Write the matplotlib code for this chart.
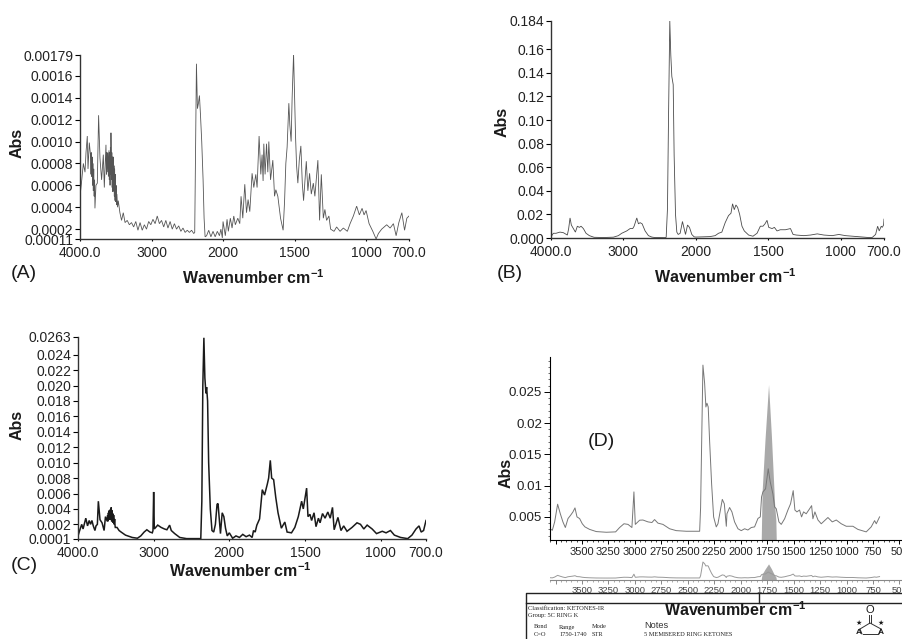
# FTIR spectra panels A-D with the library match strip under D
import numpy as np
import matplotlib
matplotlib.use("Agg")
import matplotlib.pyplot as plt
from matplotlib.ticker import FixedLocator, FixedFormatter

plt.rcParams['font.family'] = ['Liberation Sans', 'DejaVu Sans']
plt.rcParams['mathtext.fontset'] = 'custom'
plt.rcParams['mathtext.bf'] = 'Liberation Sans:bold'
plt.rcParams['mathtext.rm'] = 'Liberation Sans'

W, H = 902, 639

# panel A, absorbance in units of 1e-4
wn_a = [4000,3977,3953,3930,3916,3898,3888,3870,3851,3846,3842,3837,3830,3825,3820,3814,3808,3802,3796,3791,
        3777,3758,3740,3721,3698,3674,3660,3637,3630,3625,3619,3610,3603,3595,3590,3585,3580,3575,3570,3567,
        3560,3555,3550,3545,3540,3535,3530,3525,3520,3516,3510,3505,3500,3495,3490,3484,3475,3465,3442,3419,
        3395,3370,3340,3310,3280,3250,3220,3190,3160,
        3130,3100,3070,3040,3010,2980,2950,2920,2890,2860,2830,2800,2770,2740,2710,2680,2650,2620,2590,2560,
        2530,2500,2470,2440,2410,2396,2372,2358,2344,2330,2316,2298,2279,2265,2251,2230,2200,2170,2140,2110,
        2080,2050,2030,2010,2000,1984,1972,1963,1949,1937,1925,1914,1897,1883,1874,1862,1848,1836,1825,1813,
        1797,1785,1771,1762,1748,1736,1727,1720,1715,1706,1696,1687,1680,1668,1652,1640,1631,1617,1598,1580,
        1570,1561,1552,1540,1533,1524,1517,1507,1500,1493,1486,1477,1467,1456,1446,1437,1418,1407,1395,1383,
        1369,1358,1337,1325,1313,1299,1288,1276,1260,1248,1224,1206,1182,1159,1131,1112,1089,1066,1047,1028,
        1014,1000,979,953,930,914,891,856,832,809,790,771,750,731,715,700]
abs_a = np.array([5.0,6.4,8.0,7.2,9.0,10.5,7.5,9.9,8.6,7.0,9.0,6.8,8.6,6.0,8.0,5.5,7.5,5.0,6.5,3.9,
        6.0,6.2,12.4,8.5,6.5,8.8,5.8,9.7,7.0,9.0,7.2,9.0,6.8,9.2,6.5,9.0,6.0,9.5,7.0,10.8,
        6.5,9.0,5.8,8.6,5.4,8.6,5.5,7.8,5.0,7.5,4.6,7.0,4.5,6.0,4.2,5.2,4.0,4.6,3.5,2.8,
        3.5,2.6,2.8,2.4,2.6,2.2,2.7,1.9,2.6,
        1.9,2.4,2.0,2.7,2.4,2.9,2.5,3.2,2.5,2.8,2.2,2.8,2.1,2.7,2.0,2.5,2.0,2.3,1.8,2.1,
        1.7,1.9,1.7,1.9,1.6,1.7,17.1,13.0,13.5,14.2,12.5,10.0,6.5,3.0,1.3,1.4,1.9,1.3,1.8,1.3,
        1.8,1.4,2.0,1.2,2.7,1.4,2.9,1.8,3.0,2.1,3.2,2.4,3.0,2.5,5.0,3.0,6.1,3.5,4.7,3.6,
        7.1,5.8,7.0,5.8,10.5,7.0,8.8,6.4,9.8,7.0,9.8,7.2,10.0,6.5,8.3,5.0,5.6,5.0,3.0,1.9,
        4.5,8.0,9.5,13.5,11.5,10.0,14.0,18.0,14.0,10.4,7.8,6.2,8.3,9.6,6.2,4.6,8.2,5.5,7.1,5.2,
        6.2,5.0,8.3,2.8,7.0,3.0,3.8,2.8,3.2,2.0,1.8,2.2,1.8,2.1,1.8,2.5,3.2,4.1,3.3,3.9,
        3.3,3.7,2.5,1.8,1.1,1.6,2.0,2.4,2.1,2.5,1.4,2.6,3.5,1.9,3.0,3.2]) * 1e-4

# panel B, absorbance in units of 1e-3
wn_b = [4000,3968,3931,3876,3829,3774,3756,3737,3719,3691,3663,3636,3608,3585,3553,3516,3470,3405,3276,3138,
        3069,3023,2954,2907,2871,2852,2815,2792,2769,2741,2700,2654,2608,2566,2423,2409,2391,2377,2359,2345,
        2331,2312,2299,2280,2262,2243,2216,2184,2165,2142,2114,2087,2055,2023,2000,1947,1901,1866,1843,1820,
        1797,1774,1757,1746,1734,1723,1711,1697,1681,1665,1635,1605,1577,1554,1536,1522,1508,1496,1473,1457,
        1439,1416,1381,1346,1328,1305,1254,1208,1161,1115,1058,1012,966,885,816,781,758,744,733,719,712,703,700]
abs_b = np.array([1,4,4,5,4.5,2.5,8,17,11,8,5,10,9,10,8,4,2,0.6,0.4,0.7,
        2,4,6,8,8,10,17,12,13,12,6,2,0.8,0.4,0.3,0.6,25,100,184,155,
        137,130,70,20,5,3,4,14,9,3,11,9,3,1,0.8,1,1.2,2,4,5,
        13,19,21,29,24,28,26,20,10,6,2.5,1.5,4,10,10,12,15,9,8,9,
        6,7,7,8,3,2.5,2,2.5,3.5,2.5,2,3,2,1.2,0.5,0.5,3,10,6,10,9,11,16]) * 1e-3

# panel C, absorbance in units of 1e-3
wn_c = [4000,3978,3951,3933,3897,3874,3852,3834,3816,3798,3776,3762,3744,3731,3709,3682,3655,3637,3614,3608,
        3603,3598,3592,3587,3582,3576,3570,3561,3555,3550,3547,3540,3535,3529,3522,3516,3510,3507,
        3484,3457,3430,3372,3283,3215,3170,3126,3090,3049,3018,3009,3000,2991,2946,
        2901,2857,2825,2789,2767,2722,2655,2565,2377,2363,2350,2336,2323,2309,2300,2287,2273,2251,2229,2206,
        2184,2162,2149,2131,2117,2094,2072,2050,2027,2000,1978,1956,1933,1911,1889,1867,1849,1840,1829,1818,
        1800,1782,1767,1749,1740,1729,1720,1707,1693,1678,1656,1633,1618,1589,1567,1544,1522,1511,1489,1480,
        1467,1456,1440,1427,1411,1400,1384,1367,1349,1333,1318,1307,1282,1262,1244,1222,1189,1156,1133,1111,
        1089,1056,1027,989,964,935,909,868,821,793,766,746,732,716,700]
abs_c = np.array([0.5,1.2,2.0,1.4,2.8,1.8,2.5,2.0,2.5,1.8,1.2,1.8,2.0,5.0,2.6,2.2,1.2,3.0,2.4,3.2,
        2.4,3.5,2.6,3.8,2.6,3.9,2.6,4.2,2.4,3.8,2.4,3.4,2.2,3.2,2.0,2.7,1.8,1.6,
        1.6,1.2,1.0,0.6,0.3,0.2,0.5,1.0,1.3,1.0,0.9,1.2,6.2,1.4,1.9,
        1.6,1.4,1.3,1.9,1.2,0.8,0.3,0.15,0.15,5,20,26.2,21,19,19.8,18,10,4,1.2,1.0,
        2,4.6,4.7,2.5,0.8,3.5,3,1.5,0.5,0.9,0.2,0.5,0.3,0.7,0.4,0.6,0.3,1.2,1.0,1.9,
        2.7,6.5,5.8,7.2,8,10.3,8,7.8,5.5,3.5,1.5,2.3,1.0,0.9,1.6,3,5,4,6.7,3,
        3.3,2.5,3.5,1.7,2.8,2.2,3.4,2.8,3.6,2.8,4.2,1.3,2.9,1.2,1.8,1.1,1.6,2.2,2.0,1.4,
        1.9,1.4,0.8,1.1,0.9,1.2,0.6,0.3,0.15,0.6,1.4,1.8,1.0,1.2,2.5]) * 1e-3

# panel D spectrum
wn_d = [3805,3780,3758,3730,3705,3680,3657,3632,3607,3585,3566,3547,3522,3497,3472,3428,3365,3270,3182,3144,
        3103,3065,3028,3009,2996,2955,2924,2876,2839,2814,2782,2735,2672,2609,2514,2388,2379,2357,2341,2329,
        2319,2307,2294,2275,2256,2231,2215,2174,2155,2136,2130,2105,2083,2058,2026,1995,1963,1932,1900,1869,
        1837,1815,1803,1790,1765,1740,1721,1696,1680,1664,1639,1617,1585,1554,1529,1504,1488,1469,1444,1425,
        1406,1381,1349,1330,1318,1299,1270,1239,1176,1135,1097,1050,1003,940,893,814,767,735,719,688]
abs_d = [.00313,.00286,.0042,.00703,.00553,.0042,.0033,.00473,.00527,.0058,.00644,.005,.00473,.0039,.0034,.0030,.00265,.00254,.0026,.0033,
         .0039,.0038,.0033,.0090,.0038,.00447,.0045,.0042,.0041,.00457,.004,.0038,.0031,.0028,.0027,.0027,.0065,.0293,.0264,.0226,
         .0232,.0226,.0172,.0103,.005,.0034,.0039,.0078,.0071,.0035,.0055,.0065,.0058,.0042,.0031,.0028,.0031,.0029,.0033,.0034,
         .00475,.005,.0082,.0090,.0095,.0127,.0106,.0087,.0066,.0063,.0042,.0038,.0047,.0061,.0071,.0092,.0061,.0058,.0061,.005,
         .0058,.0055,.0063,.0068,.0047,.0058,.0045,.0039,.0049,.0042,.0045,.0039,.0035,.0035,.0030,.0026,.0034,.0044,.0039,.005]

# library band shaded in D
wn_band = [1806,1798,1770,1737,1710,1680,1668,1664]
abs_band = [.0013,.0090,.0175,.0262,.018,.0072,.0045,.0013]

ticks_spec = [4000, 3000, 2000, 1500, 1000, 700]
labels_spec = ['4000.0', '3000', '2000', '1500', '1000', '700.0']
ticks_a = [0.00011, 0.0002, 0.0004, 0.0006, 0.0008, 0.0010, 0.0012, 0.0014, 0.0016, 0.00179]
labels_a = ['0.00011', '0.0002', '0.0004', '0.0006', '0.0008', '0.0010', '0.0012', '0.0014', '0.0016', '0.00179']
ticks_b = [0, 0.02, 0.04, 0.06, 0.08, 0.10, 0.12, 0.14, 0.16, 0.184]
labels_b = ['0.000', '0.02', '0.04', '0.06', '0.08', '0.10', '0.12', '0.14', '0.16', '0.184']
ticks_c = [0.0001, 0.002, 0.004, 0.006, 0.008, 0.010, 0.012, 0.014, 0.016, 0.018, 0.020, 0.022, 0.024, 0.0263]
labels_c = ['0.0001', '0.002', '0.004', '0.006', '0.008', '0.010', '0.012', '0.014', '0.016', '0.018', '0.020', '0.022', '0.024', '0.0263']
ticks_d = [0.005, 0.01, 0.015, 0.02, 0.025]
labels_d = ['0.005', '0.01', '0.015', '0.02', '0.025']
ticks_wn = [3750, 3500, 3250, 3000, 2750, 2500, 2250, 2000, 1750, 1500, 1250, 1000, 750, 500]
labels_wn = ['', '3500', '3250', '3000', '2750', '2500', '2250', '2000', '1750', '1500', '1250', '1000', '750', '500']
minor_wn = list(range(500, 3801, 50))


def add_box(left, top, right, bottom):
    return fig.add_axes([left / W, 1 - bottom / H, (right - left) / W, (bottom - top) / H])


def forward(x):
    # the instrument halves the scale above 2000
    return np.interp(x, [0, 2000, 8000], [0, 2000, 5000])


def inverse(x):
    return np.interp(x, [0, 2000, 5000], [0, 2000, 8000])


def spectrum(box, wn, absorb, yticks, ylabels, ylim, lw, color):
    ax = add_box(*box)
    ax.plot(wn, absorb, color=color, lw=lw, solid_joinstyle='miter')
    ax.set_xscale('function', functions=(forward, inverse))
    ax.set_xlim(4000, 700)
    ax.set_ylim(*ylim)
    ax.xaxis.set_major_locator(FixedLocator(ticks_spec))
    ax.xaxis.set_major_formatter(FixedFormatter(labels_spec))
    ax.xaxis.set_minor_locator(FixedLocator([]))
    ax.set_yticks(yticks)
    ax.set_yticklabels(ylabels)
    ax.tick_params(axis='y', length=3.5, width=0.8, labelsize=10, pad=1.5, labelcolor='#222222')
    ax.tick_params(axis='x', length=1.5, width=0.8, labelsize=10, pad=3.5, labelcolor='#222222')
    ax.spines['top'].set_visible(False)
    ax.spines['right'].set_visible(False)
    for s in ['left', 'bottom']:
        ax.spines[s].set_linewidth(1.0)
        ax.spines[s].set_color('#333333')
    ax.patch.set_alpha(0)
    return ax


def wn_axis(ax, labelsize, pad):
    ax.set_xlim(3802, 476)
    ax.xaxis.set_major_locator(FixedLocator(ticks_wn))
    ax.xaxis.set_major_formatter(FixedFormatter(labels_wn))
    ax.xaxis.set_minor_locator(FixedLocator(minor_wn))
    ax.tick_params(axis='x', which='major', length=3, width=0.7, labelsize=labelsize, pad=pad, labelcolor='#222222')
    ax.tick_params(axis='x', which='minor', length=1.5, width=0.5)
    ax.spines['top'].set_visible(False)
    ax.spines['right'].set_visible(False)
    ax.patch.set_alpha(0)


fig = plt.figure(figsize=(W / 100, H / 100), dpi=100)

# pixel space overlay for labels and the library card
page = fig.add_axes([0, 0, 1, 1])
page.set_xlim(0, W)
page.set_ylim(H, 0)
page.axis('off')

spectrum((80, 55, 409, 239), wn_a, abs_a, ticks_a, labels_a, (0.00011, 0.00179), 0.6, '#555555')
spectrum((551, 21, 884, 238), wn_b, abs_b, ticks_b, labels_b, (0, 0.184), 0.6, '#4a4a4a')
spectrum((78, 337, 426, 539), wn_c, abs_c, ticks_c, labels_c, (0.0001, 0.0263), 1.1, '#1a1a1a')

# panel D
ax_d = add_box(550, 357, W, 540)
ax_d.fill_between(wn_band, 0.0013, abs_band, color='#a9a9a9', lw=0)
ax_d.plot(wn_d, abs_d, color='#777777', lw=0.7)
ax_d.set_ylim(0.0013, 0.0306)
ax_d.set_yticks(ticks_d)
ax_d.set_yticklabels(labels_d)
ax_d.yaxis.set_minor_locator(FixedLocator(np.arange(0.002, 0.0305, 0.001)))
ax_d.tick_params(axis='y', which='major', length=4, width=0.7, labelsize=9.6, pad=1.5, labelcolor='#222222')
ax_d.tick_params(axis='y', which='minor', length=1.5, width=0.4)
wn_axis(ax_d, 8.0, 2)

# small overview strip under D
ax_m = add_box(550, 555, W, 580)
ax_m.fill_between(wn_band, -0.0007, abs_band, color='#a9a9a9', lw=0)
ax_m.plot(wn_d, abs_d, color='#999999', lw=0.7)
ax_m.set_ylim(-0.0007, 0.041)
ax_m.set_yticks([])
ax_m.spines['left'].set_visible(False)
wn_axis(ax_m, 6.8, 1.5)
ax_m.spines['bottom'].set_color('#888888')
ax_m.tick_params(axis='x', which='both', color='#888888', labelcolor='#444444')

txt = dict(ha='center', va='center', color='#1a1a1a')
xlabel = r'Wavenumber cm$^{\mathbf{-1}}$'
for x, y in [(253, 278), (725, 277), (240, 571)]:
    page.text(x, y, xlabel, fontsize=11.5, fontweight='bold', **txt)
for x, y in [(17, 143), (502, 122), (17, 425), (506, 473)]:
    page.text(x, y, 'Abs', fontsize=11.5, fontweight='bold', rotation=90, **txt)
for x, y, s in [(24, 273, '(A)'), (510, 274, '(B)'), (24, 566, '(C)'), (601, 442, '(D)')]:
    page.text(x, y, s, fontsize=14, **txt)

# library card at the bottom right
page.plot([W, 526, 526], [593, 593, H], color='#222222', lw=1.0, clip_on=False)
page.plot([526, W], [603, 603], color='#222222', lw=1.0)
page.plot([759, 759], [593, 603], color='#222222', lw=1.0)
page.text(735, 610, xlabel, fontsize=11.5, fontweight='bold', **txt)
serif = dict(family='Liberation Serif', ha='left', va='center', color='#222222', fontsize=4.6)
page.text(528, 608, 'Classification: KETONES-IR', **serif)
page.text(528, 615, 'Group: 5C RING K', **serif)
page.text(534, 627, 'Bond', **serif)
page.text(534, 634, 'C=O', **serif)
page.text(559, 627, 'Range', **serif)
page.text(559, 634, '1750-1740', **serif)
page.text(592, 627, 'Mode', **serif)
page.text(592, 634, 'STR', **serif)
page.text(644, 626, 'Notes', fontsize=6.6, ha='left', va='center', color='#333333')
page.text(644, 634, '5 MEMBERED RING KETONES', **serif)

# ketone ring sketch
page.text(870, 610, 'O', fontsize=8, **txt)
page.plot([869, 869], [615, 623], color='#333333', lw=0.7)
page.plot([871, 871], [615, 623], color='#333333', lw=0.7)
page.plot([860, 870, 881], [629, 623, 629], color='#333333', lw=0.7)
page.plot([860, 862], [629, 634], color='#333333', lw=0.7)
page.plot([881, 879], [629, 634], color='#333333', lw=0.7)
page.plot([863, 878], [634, 634], color='#333333', lw=0.7)
page.text(859, 623, '★', fontsize=5, family='DejaVu Sans', **txt)
page.text(881, 623, '★', fontsize=5, family='DejaVu Sans', **txt)
page.text(859, 633, 'A', fontsize=6, fontweight='bold', **txt)
page.text(881, 633, 'A', fontsize=6, fontweight='bold', **txt)

fig.savefig('out.png', dpi=100)
